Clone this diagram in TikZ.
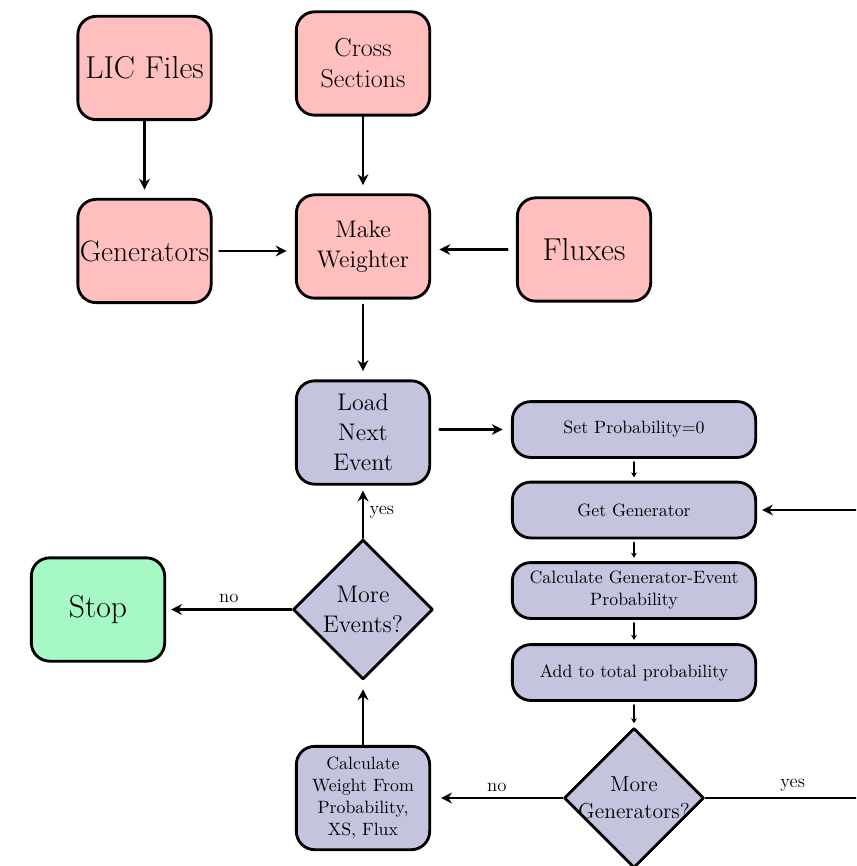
\documentclass[tikz,border=0pt]{standalone}
\usepackage{amsmath}
\usepackage{tikz}
\usetikzlibrary{arrows.meta,shapes.geometric}
\definecolor{inpink}{RGB}{255,191,191}
\definecolor{evblue}{RGB}{196,196,223}
\definecolor{stopgreen}{RGB}{166,248,196}

\begin{document}
\begin{tikzpicture}[line cap=round,line join=round,>={Stealth[length=6.5pt,width=6.5pt]},x=0.6pt,y=0.6pt,
  inbox/.style={draw,line width=1.7pt,rounded corners=11pt,fill=inpink,minimum width=80pt,minimum height=62pt,inner sep=1pt,align=center,font=\Large},
  evbox/.style={inbox,fill=evblue},
  bigword/.style={font=\fontsize{19}{23}\selectfont},
  steptext/.style={font=\fontsize{10.7}{13.2}\selectfont},
  stepbox/.style={draw,line width=1.7pt,rounded corners=11pt,fill=evblue,minimum width=146pt,minimum height=33.5pt,inner sep=1pt,align=center,steptext},
  decision/.style={draw,diamond,aspect=1,line width=1.7pt,fill=evblue,minimum size=84pt,inner sep=0pt,align=center,font=\Large},
  answer/.style={font=\fontsize{11.2}{13}\selectfont},
  arrow/.style={->,line width=1.3pt,shorten >=5pt},
  smallarrow/.style={-{Stealth[length=3pt,width=3.5pt]},line width=1.3pt,shorten >=2pt,shorten <=2pt}]
\useasboundingbox (0,0) rectangle (856,-866);
\clip (0,0) rectangle (856,-866);

\node[inbox,bigword] (lic) at (144.5,-68) {LIC Files};
\node[inbox,font=\fontsize{15.6}{18.6}\selectfont] (xsec) at (363,-63.5) {Cross\\Sections};
\node[inbox,font=\fontsize{17.7}{21}\selectfont] (gen) at (144.5,-251) {Generators};
\node[inbox] (weighter) at (363,-246.5) {Make\\Weighter};
\node[inbox,bigword] (flux) at (584,-249.5) {Fluxes};
\node[evbox] (load) at (363,-432.5) {Load\\Next\\Event};
\node[stepbox] (setprob) at (634,-429.5) {Set Probability=0};
\node[stepbox] (getgen) at (634,-510) {Get Generator};
\node[stepbox] (calcprob) at (634,-590.5) {Calculate Generator-Event\\Probability};
\node[stepbox] (addprob) at (634,-672.5) {Add to total probability};
\node[decision,font=\fontsize{13}{16}\selectfont] (moregen) at (634,-798) {\makebox[0pt]{More}\\\makebox[0pt]{Generators?}};
\node[evbox,steptext] (calcw) at (363,-798) {Calculate\\Weight From\\Probability,\\XS, Flux};
\node[decision] (moreev) at (363,-609.5) {More\\Events?};
\node[inbox,fill=stopgreen,bigword] (stop) at (98,-609.5) {Stop};
\coordinate (loopdown) at (880,-798);
\coordinate (loopup) at (880,-510);

\draw[arrow] (lic) -- (gen);
\draw[arrow] (xsec) -- (weighter);
\draw[arrow,shorten <=4pt] (gen) -- (gen -| weighter.west);
\draw[arrow,shorten <=5pt] (flux) -- (flux -| weighter.east);
\draw[arrow,shorten <=3pt] (weighter) -- (load);
\draw[arrow,shorten <=5pt] (load.east |- setprob) -- (setprob);
\draw[smallarrow] (setprob) -- (getgen);
\draw[smallarrow] (getgen) -- (calcprob);
\draw[smallarrow] (calcprob) -- (addprob);
\draw[smallarrow] (addprob) -- (moregen);
\draw[arrow,shorten >=6pt] (moregen) -- node[above,answer] {no} (calcw);
\draw[arrow,shorten >=3pt] (moregen) -- node[above,answer] {yes} (loopdown) -- (loopup) -- (getgen);
\draw[arrow] (calcw) -- (moreev);
\draw[arrow,shorten >=3pt] (moreev) -- node[right,answer] {yes} (load);
\draw[arrow,shorten >=3pt] (moreev) -- node[above,answer] {no} (stop);
\end{tikzpicture}
\end{document}
